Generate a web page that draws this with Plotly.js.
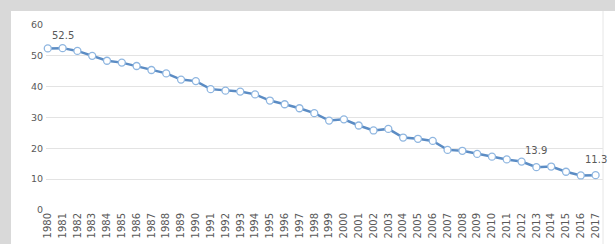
<!DOCTYPE html>
<html>
<head>
<meta charset="utf-8">
<script src="https://cdn.plot.ly/plotly-3.0.1.min.js"></script>
<style>
  html, body { margin: 0; padding: 0; background: #d9d9d9; width: 615px; height: 244px; overflow: hidden; }
  #chart { position: absolute; left: 11px; top: 11px; width: 604px; height: 233px; background: #fff; }
</style>
</head>
<body>
<div id="chart"></div>
<script>
const years = ["1980","1981","1982","1983","1984","1985","1986","1987","1988","1989",
  "1990","1991","1992","1993","1994","1995","1996","1997","1998","1999",
  "2000","2001","2002","2003","2004","2005","2006","2007","2008","2009",
  "2010","2011","2012","2013","2014","2015","2016","2017"];
const values = [52.4, 52.5, 51.6, 50.0, 48.4, 47.8, 46.7, 45.4, 44.3, 42.3,
  41.8, 39.2, 38.7, 38.4, 37.5, 35.5, 34.3, 33.0, 31.4, 29.0,
  29.4, 27.4, 25.8, 26.3, 23.5, 23.1, 22.4, 19.5, 19.2, 18.2,
  17.3, 16.4, 15.7, 13.9, 14.1, 12.4, 11.2, 11.3];
const labelledYears = ["1981", "2013", "2017"];
const labelShifts = [13, 17, 16];
const yTicks = [0, 10, 20, 30, 40, 50, 60];

const annotations = labelledYears.map((yr, k) => {
  const i = years.indexOf(yr);
  return {
    x: i, y: values[i], xref: "x", yref: "y",
    text: values[i].toFixed(1),
    showarrow: false,
    yshift: labelShifts[k],
    font: { family: "DejaVu Sans, Verdana, sans-serif", size: 10, color: "#595959" }
  };
});

const trace = {
  x: years.map((_, i) => i),
  y: values,
  type: "scatter",
  mode: "lines+markers",
  line: { color: "#5b8cc4", width: 2.5 },
  marker: { size: 7, color: "#ffffff", line: { color: "#8fb6e0", width: 1.3 } },
  cliponaxis: false,
  hoverinfo: "skip"
};

const layout = {
  width: 604, height: 233,
  margin: { l: 35, r: 12, t: 14, b: 34 },
  paper_bgcolor: "#ffffff",
  plot_bgcolor: "#ffffff",
  showlegend: false,
  font: { family: "DejaVu Sans, Verdana, sans-serif", size: 9, color: "#595959" },
  annotations: annotations,
  shapes: [{
    type: "line", xref: "paper", yref: "paper",
    x0: 1.0, x1: 1.0, y0: -0.2, y1: 1.1,
    line: { color: "#e6e6e6", width: 1 }
  }],
  xaxis: {
    range: [-0.12, 37.5],
    tickmode: "array",
    tickvals: years.map((_, i) => i),
    ticktext: years,
    tickangle: -90,
    tickfont: { size: 10, color: "#595959" },
    showgrid: false,
    zeroline: false,
    showline: false,
    ticks: "",
    fixedrange: true
  },
  yaxis: {
    range: [0, 60],
    tickmode: "array",
    tickvals: yTicks,
    ticktext: yTicks.map(String),
    tickfont: { size: 9.5, color: "#595959" },
    showgrid: true,
    gridcolor: "#e3e3e3",
    gridwidth: 1,
    zeroline: false,
    showline: false,
    ticks: "",
    ticklabelstandoff: 2,
    fixedrange: true
  }
};

Plotly.newPlot("chart", [trace], layout, { staticPlot: true, displayModeBar: false });
</script>
</body>
</html>
